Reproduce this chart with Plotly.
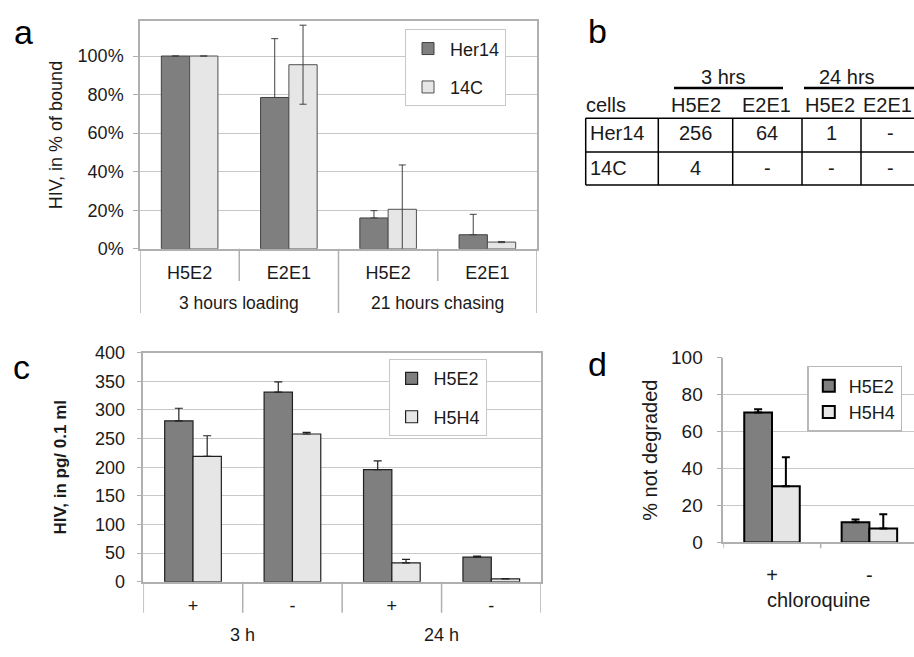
import plotly.graph_objects as go

# ---------------- data ----------------
# panel a
a_categories = ["H5E2", "E2E1", "H5E2", "E2E1"]
a_groups = ["3 hours loading", "21 hours chasing"]
a_her14 = [1.00, 0.785, 0.16, 0.073]
a_her14_err = [None, 0.305, 0.038, 0.106]
a_14c = [1.00, 0.955, 0.205, 0.035]
a_14c_err = [None, 0.205, 0.23, 0.003]

# panel b (table)
b_groups = ["3 hrs", "24 hrs"]
b_columns = ["H5E2", "E2E1", "H5E2", "E2E1"]
b_rows = ["Her14", "14C"]
b_values = [["256", "64", "1", "-"],
            ["4", "-", "-", "-"]]

# panel c
c_categories = ["+", "-", "+", "-"]
c_groups = ["3 h", "24 h"]
c_h5e2 = [281, 331, 196, 43]
c_h5e2_err = [22, 18, 15, 2]
c_h5h4 = [219, 258, 33, 5]
c_h5h4_err = [36, 3, 6, 0.5]

# panel d
d_categories = ["+", "-"]
d_h5e2 = [70.4, 10.9]
d_h5e2_err = [1.8, 1.5]
d_h5h4 = [30.4, 7.5]
d_h5h4_err = [15.7, 7.7]

# ---------------- layout helpers ----------------
W, H = 914, 657
FONT = "Liberation Sans, Arial, sans-serif"
TXT = "#1a1a1a"
DARK = "#7f7f7f"
LIGHT = "#e6e6e6"
GRID = "#c8c8c8"
AXL = "#b0b0b0"


def px(x):
    return x / W


def py(y):
    return 1 - y / H


# panel boxes in pixels (left, right, top, bottom)
A_L, A_R, A_T, A_B = 140, 537, 11.7, 246.7
C_L, C_R, C_T, C_B = 143.3, 541, 354, 590.7
D_L, D_R, D_T, D_B = 723.3, 914, 359.3, 550
D_CAT = 97.4


def zeros(n):
    return [0] * n


fig = go.Figure()

# ---------------- panel a ----------------
ax_idx = list(range(len(a_categories)))
fig.add_trace(go.Bar(
    x=ax_idx, y=a_her14, name="Her14", xaxis="x", yaxis="y",
    marker=dict(color=DARK, line=dict(color="#404040", width=1)),
    error_y=dict(type="data", array=a_her14_err, arrayminus=zeros(len(a_her14)),
                 symmetric=False, visible=True, color="#404040", thickness=1, width=3.5),
    legend="legend", legendgroup="a1"))
fig.add_trace(go.Bar(
    x=ax_idx, y=a_14c, name="14C", xaxis="x", yaxis="y",
    marker=dict(color=LIGHT, line=dict(color="#505050", width=1)),
    error_y=dict(type="data", array=a_14c_err, visible=True,
                 color="#404040", thickness=1, width=3.5),
    legend="legend", legendgroup="a2"))

# ---------------- panel c ----------------
cx_idx = list(range(len(c_categories)))
fig.add_trace(go.Bar(
    x=cx_idx, y=c_h5e2, name="H5E2", xaxis="x2", yaxis="y2",
    marker=dict(color=DARK, line=dict(color="#202020", width=1.2)),
    error_y=dict(type="data", array=c_h5e2_err, arrayminus=zeros(len(c_h5e2)),
                 symmetric=False, visible=True, color="#202020", thickness=1.2, width=4),
    legend="legend2", legendgroup="c1"))
fig.add_trace(go.Bar(
    x=cx_idx, y=c_h5h4, name="H5H4", xaxis="x2", yaxis="y2",
    marker=dict(color=LIGHT, line=dict(color="#202020", width=1.2)),
    error_y=dict(type="data", array=c_h5h4_err, arrayminus=zeros(len(c_h5h4)),
                 symmetric=False, visible=True, color="#202020", thickness=1.2, width=4),
    legend="legend2", legendgroup="c2"))

# ---------------- panel d ----------------
dx_idx = list(range(len(d_categories)))
fig.add_trace(go.Bar(
    x=dx_idx, y=d_h5e2, name="H5E2", xaxis="x3", yaxis="y3",
    marker=dict(color=DARK, line=dict(color="#000000", width=2)),
    error_y=dict(type="data", array=d_h5e2_err, arrayminus=zeros(len(d_h5e2)),
                 symmetric=False, visible=True, color="#000000", thickness=2, width=4),
    legend="legend3", legendgroup="d1"))
fig.add_trace(go.Bar(
    x=dx_idx, y=d_h5h4, name="H5H4", xaxis="x3", yaxis="y3",
    marker=dict(color=LIGHT, line=dict(color="#000000", width=2)),
    error_y=dict(type="data", array=d_h5h4_err, arrayminus=zeros(len(d_h5h4)),
                 symmetric=False, visible=True, color="#000000", thickness=2, width=4),
    legend="legend3", legendgroup="d2"))

shapes = []
annotations = []

# category dividers panel a
for i in range(len(a_categories) + 1):
    xb = i - 0.5
    long_line = (i % 2 == 0)
    shapes.append(dict(type="line", xref="x", yref="paper", x0=xb, x1=xb,
                       y0=py(A_B), y1=py(313 if long_line else 280),
                       line=dict(color=AXL, width=1.5)))
for g, name in enumerate(a_groups):
    annotations.append(dict(xref="x", yref="paper", x=2 * g + 0.5, y=py(303),
                            text=name, showarrow=False, xanchor="center", yanchor="middle",
                            font=dict(size=17.5, color=TXT)))

# category dividers panel c
for i in range(len(c_categories) + 1):
    xb = i - 0.5
    shapes.append(dict(type="line", xref="x2", yref="paper", x0=xb, x1=xb,
                       y0=py(C_B), y1=py(622.7), line=dict(color=AXL, width=1.5)))
for g, name in enumerate(c_groups):
    annotations.append(dict(xref="x2", yref="paper", x=2 * g + 0.5, y=py(646),
                            text=name, showarrow=False, xanchor="center", yanchor="middle",
                            font=dict(size=18, color=TXT)))

# category ticks panel d
for i in range(len(d_categories) + 1):
    xb = i - 0.5
    shapes.append(dict(type="line", xref="x3", yref="paper", x0=xb, x1=xb,
                       y0=py(D_B), y1=py(556), line=dict(color=AXL, width=1.5)))

# ---------------- panel b table ----------------
TF = 20
col_edges = [585.7, 658.3, 732.7, 802, 861, 919]
row_edges = [111.7, 146.7, 180.7]
for ye in row_edges:
    shapes.append(dict(type="line", xref="paper", yref="paper", x0=px(col_edges[0]), x1=px(W),
                       y0=py(ye), y1=py(ye), line=dict(color="#000000", width=1.5)))
for xe in col_edges[:-1]:
    shapes.append(dict(type="line", xref="paper", yref="paper", x0=px(xe), x1=px(xe),
                       y0=py(row_edges[0]), y1=py(row_edges[-1]),
                       line=dict(color="#000000", width=1.5)))
# group headers with underline
group_spans = [(674, 783), (804, W)]
group_centers = [723.3, 846.7]
for name, (x0, x1), xc in zip(b_groups, group_spans, group_centers):
    shapes.append(dict(type="line", xref="paper", yref="paper", x0=px(x0), x1=px(x1),
                       y0=py(80.7), y1=py(80.7), line=dict(color="#000000", width=2.5)))
    annotations.append(dict(xref="paper", yref="paper", x=px(xc), y=py(69), text=name,
                            showarrow=False, xanchor="center", yanchor="middle",
                            font=dict(size=TF, color=TXT)))
annotations.append(dict(xref="paper", yref="paper", x=px(584), y=py(98.3), text="cells",
                        showarrow=False, xanchor="left", yanchor="middle",
                        font=dict(size=TF, color=TXT)))
header_centers = [695.5, 766.7, 830, 887]
for name, xc in zip(b_columns, header_centers):
    annotations.append(dict(xref="paper", yref="paper", x=px(xc), y=py(98.3), text=name,
                            showarrow=False, xanchor="center", yanchor="middle",
                            font=dict(size=TF, color=TXT)))
row_centers = [127, 163.3]
cell_centers = [695.5, 767.4, 831.5, 890]
for r, rname in enumerate(b_rows):
    annotations.append(dict(xref="paper", yref="paper", x=px(588), y=py(row_centers[r]), text=rname,
                            showarrow=False, xanchor="left", yanchor="middle",
                            font=dict(size=TF, color=TXT)))
    for c, val in enumerate(b_values[r]):
        annotations.append(dict(xref="paper", yref="paper", x=px(cell_centers[c]), y=py(row_centers[r]),
                                text=val, showarrow=False, xanchor="center", yanchor="middle",
                                font=dict(size=TF, color=TXT)))

# panel letters
for letter, (lx, ly) in zip(["a", "b", "c", "d"], [(23, 23), (597, 22), (21, 369), (597, 366)]):
    annotations.append(dict(xref="paper", yref="paper", x=px(lx), y=py(ly), text=letter,
                            showarrow=False, xanchor="center", yanchor="middle",
                            font=dict(size=34, color="#000000")))

common_y = dict(showline=True, linecolor=AXL, linewidth=1.5, gridcolor=GRID, gridwidth=1,
                ticks="outside", tickcolor=AXL, ticklen=5, zeroline=False)

fig.update_layout(
    autosize=True, margin=dict(l=0, r=0, t=0, b=0),
    paper_bgcolor="white", plot_bgcolor="white",
    font=dict(family=FONT, color=TXT),
    barmode="group", bargap=0.43, bargroupgap=0,
    showlegend=True,
    xaxis=dict(domain=[px(A_L), px(A_R)], range=[-0.5, 3.5], anchor="y",
               tickvals=ax_idx, ticktext=a_categories, ticks="",
               showline=True, linecolor=AXL, linewidth=1.5, mirror=True,
               showgrid=False, zeroline=False, ticklabelstandoff=7,
               tickfont=dict(size=18, color=TXT)),
    yaxis=dict(domain=[py(A_B), py(A_T)], range=[0, 1.18], anchor="x",
               tickformat=".0%", dtick=0.2, mirror=True,
               title=dict(text="HIV, in % of bound", font=dict(size=18, color=TXT), standoff=10),
               ticklabelstandoff=6, tickfont=dict(size=18, color=TXT), **common_y),
    xaxis2=dict(domain=[px(C_L), px(C_R)], range=[-0.5, 3.5], anchor="y2",
                tickvals=cx_idx, ticktext=c_categories, ticks="",
                showline=True, linecolor=AXL, linewidth=1.5, mirror=True,
                showgrid=False, zeroline=False, ticklabelstandoff=7,
                tickfont=dict(size=18, color=TXT)),
    yaxis2=dict(domain=[py(C_B), py(C_T)], range=[0, 400], anchor="x2",
                dtick=50, mirror=True,
                title=dict(text="HIV, in pg/ 0.1 ml", font=dict(size=17, color=TXT, weight="bold"),
                           standoff=24),
                ticklabelstandoff=8, tickfont=dict(size=18, color=TXT), **common_y),
    xaxis3=dict(domain=[px(D_L), px(D_R)], range=[-0.5, -0.5 + (D_R - D_L) / D_CAT], anchor="y3",
                tickvals=dx_idx, ticktext=d_categories, ticks="",
                showline=True, linecolor=AXL, linewidth=1.5, mirror=False,
                showgrid=False, zeroline=False, ticklabelstandoff=14,
                tickfont=dict(size=20, color=TXT),
                title=dict(text="chloroquine", font=dict(size=20, color=TXT), standoff=8)),
    yaxis3=dict(domain=[py(D_B), py(D_T)], range=[0, 100], anchor="x3",
                dtick=20, mirror=False,
                title=dict(text="% not degraded", font=dict(size=20, color=TXT), standoff=8),
                ticklabelstandoff=10, tickfont=dict(size=19, color=TXT), **common_y),
    legend=dict(x=px(405), y=py(20), xanchor="left", yanchor="top",
                bgcolor="white", bordercolor="#c8c8c8", borderwidth=1, itemwidth=34,
                font=dict(size=18, color=TXT), traceorder="grouped", tracegroupgap=12),
    legend2=dict(x=px(388.6), y=py(360.7), xanchor="left", yanchor="top",
                 bgcolor="white", bordercolor="#c8c8c8", borderwidth=1, itemwidth=34,
                 font=dict(size=18, color=TXT), traceorder="grouped", tracegroupgap=12),
    legend3=dict(x=px(807.3), y=py(367.7), xanchor="left", yanchor="top",
                 bgcolor="white", bordercolor="#b8b8b8", borderwidth=1.5,
                 font=dict(size=18, color=TXT), traceorder="grouped", tracegroupgap=0),
    shapes=shapes, annotations=annotations,
)

# the plot div is pinned to the page's top-left corner at exactly 914x657
fig.write_html("out.html", config={"displayModeBar": False},
               default_width=f"{W}px; position:absolute; left:0; top:0",
               default_height=f"{H}px",
               post_script="document.body.style.margin='0';")
